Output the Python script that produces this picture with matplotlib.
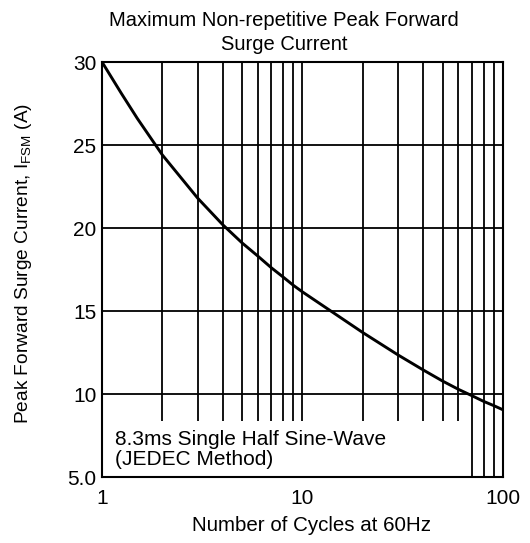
import numpy as np
import matplotlib
matplotlib.use('Agg')
import matplotlib.pyplot as plt
from matplotlib.patches import Rectangle

plt.rcParams['font.family'] = ['Liberation Sans', 'DejaVu Sans']

# curve
cycles = [1, 1.25, 1.5, 2, 3, 4, 5, 6, 7, 8, 9, 10, 20, 30, 40, 50, 60, 70, 80, 90, 100]
ifsm = [30.0, 28.1, 26.6, 24.4, 21.8, 20.2, 19.1, 18.3, 17.6, 17.05, 16.55, 16.15,
        13.7, 12.35, 11.45, 10.78, 10.28, 9.9, 9.56, 9.3, 9.05]

y_ticks = [5, 10, 15, 20, 25, 30]
y_labels = ['5.0', '10', '15', '20', '25', '30']
x_ticks = [1, 10, 100]
x_labels = ['1', '10', '100']

fig = plt.figure(figsize=(5.30, 5.43), dpi=100)
ax = fig.add_axes([0.1925, 0.1215, 0.7565, 0.7643])

ax.plot(cycles, ifsm, color='black', lw=2.1, zorder=3, solid_capstyle='butt')

ax.set_xscale('log')
ax.set_xlim(1, 100)
ax.set_ylim(5, 30)
ax.set_xticks(x_ticks)
ax.set_xticklabels(x_labels)
ax.set_yticks(y_ticks)
ax.set_yticklabels(y_labels)
ax.xaxis.set_minor_locator(matplotlib.ticker.LogLocator(base=10, subs=np.arange(2, 10)))
ax.xaxis.set_minor_formatter(matplotlib.ticker.NullFormatter())
ax.tick_params(axis='both', which='both', length=0, labelsize=15)
ax.tick_params(axis='x', pad=8.5)
ax.tick_params(axis='y', pad=4)

ax.set_axisbelow(True)
ax.grid(True, which='both', axis='x', color='black', lw=1.3)
ax.grid(True, which='major', axis='y', color='black', lw=1.3)
for s in ax.spines.values():
    s.set_linewidth(1.5)

# white box behind the note hides the grid
ax.add_patch(Rectangle((1, 5), 59.5, 3.35, facecolor='white', edgecolor='none', zorder=1))
ax.text(1.16, 5.72, '8.3ms Single Half Sine-Wave\n(JEDEC Method)', fontsize=15,
        ha='left', va='baseline', linespacing=1.08, zorder=4)

fig.suptitle('Maximum Non-repetitive Peak Forward\nSurge Current', fontsize=14.5,
             x=284 / 530, y=1 - 11 / 543, va='top', linespacing=1.3)
fig.text(312 / 530, 1 - 531 / 543, 'Number of Cycles at 60Hz', fontsize=14.8,
         ha='center', va='baseline')
fig.text(24 / 530, 1 - 263 / 543, 'Peak Forward Surge Current, I$_{\\mathregular{FSM}}$ (A)',
         fontsize=13.8, rotation=90, ha='center', va='center')

fig.savefig('out.png', dpi=100)
